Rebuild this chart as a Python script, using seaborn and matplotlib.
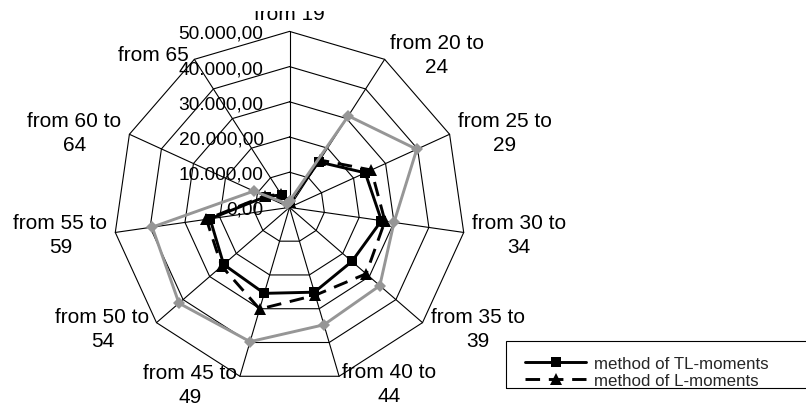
import numpy as np
import matplotlib
matplotlib.use("Agg")
import matplotlib.pyplot as plt
from matplotlib.lines import Line2D
from matplotlib.patches import Rectangle
import seaborn as sns

# Age groups (one spoke per group, clockwise from the top)
categories = ["from 19", "from 20 to\n24", "from 25 to\n29", "from 30 to\n34",
              "from 35 to\n39", "from 40 to\n44", "from 45 to\n49", "from 50 to\n54",
              "from 55 to\n59", "from 60 to\n64", "from 65"]

# Estimated values per age group
tl_moments = [1500, 15350, 23650, 26400, 23450, 25100, 25450, 24750, 22800, 7400, 4200]
l_moments = [1500, 16000, 25550, 27400, 28800, 26000, 30100, 25500, 23850, 7800, 4400]
observed = [1800, 30900, 39750, 30000, 33950, 34750, 39750, 41550, 39400, 11150, 1200]

ring_values = [0, 10000, 20000, 30000, 40000, 50000]
ring_labels = ["0,00", "10.000,00", "20.000,00", "30.000,00", "40.000,00", "50.000,00"]
series_names = ["method of TL-moments", "method of L-moments"]

sns.set_theme(style="white")
plt.rcParams["font.family"] = ["Liberation Sans", "DejaVu Sans"]

W, H = 806, 406
fig = plt.figure(figsize=(W / 100, H / 100), dpi=100)
fig.patch.set_facecolor("white")

cx, cy, R = 289.5, 208.4, 176.0
ax = fig.add_axes([(cx - R) / W, (H - cy - R) / H, 2 * R / W, 2 * R / H],
                  projection="polar")
ax.set_theta_offset(np.pi / 2)
ax.set_theta_direction(-1)
ax.set_facecolor("none")
ax.grid(False)
ax.spines["polar"].set_visible(False)
ax.set_xticks([])
ax.set_yticks([])

n = len(categories)
theta = 2 * np.pi * np.arange(n) / n
theta_closed = np.append(theta, 2 * np.pi)
rmax = ring_values[-1]


def closed(vals):
    return np.append(np.asarray(vals, dtype=float), vals[0])


# Polygon web: rings and spokes
for r in ring_values[1:]:
    ax.plot(theta_closed, [r] * (n + 1), color="black", lw=0.8, zorder=1, clip_on=False)
for t in theta:
    ax.plot([t, t], [0, rmax], color="black", lw=0.8, zorder=1, clip_on=False)

lw = 2.1
sns.lineplot(x=theta_closed, y=closed(tl_moments), sort=False, estimator=None,
             color="black", lw=lw, marker="s", markersize=7.5,
             markeredgecolor="black", markeredgewidth=0, ax=ax, zorder=3)
sns.lineplot(x=theta_closed, y=closed(l_moments), sort=False, estimator=None,
             color="black", lw=lw, linestyle=(0, (5, 3)), marker="^", markersize=8,
             markeredgecolor="black", markeredgewidth=0, ax=ax, zorder=3)
sns.lineplot(x=theta_closed, y=closed(observed), sort=False, estimator=None,
             color="#969696", lw=lw, marker="D", markersize=6.5,
             markeredgecolor="#969696", markeredgewidth=0, ax=ax, zorder=4)
ax.set_ylim(0, rmax)
ax.set_xlabel("")
ax.set_ylabel("")

# Value labels along the top spoke
for r, lab in zip(ring_values, ring_labels):
    ax.annotate(lab, xy=(0, r), xytext=(-26, -2), textcoords="offset pixels",
                ha="right", va="center", fontsize=13.8, color="black",
                annotation_clip=False, zorder=5)

# Category labels just outside each outer vertex; the top one is cut by the chart area
label_offsets = [(0, 12.4), (52, 5), (55, 2), (55, -2), (55, -6), (50, -7),
                 (-50, -8), (-54, -6), (-55, -2), (-55, 2), (-41, 5)]
chart_area = Rectangle((0, 0), 1, (H - 12) / H, transform=fig.transFigure,
                       facecolor="none", edgecolor="none")
for i, (t, lab, (dx, dy)) in enumerate(zip(theta, categories, label_offsets)):
    txt = ax.annotate(lab, xy=(t, rmax), xytext=(dx, dy), textcoords="offset pixels",
                      ha="center", va="baseline" if i == 0 else "center",
                      multialignment="center", fontsize=15, linespacing=1.3,
                      color="black", annotation_clip=False)
    if i == 0:
        txt.set_clip_on(True)
        txt.set_clip_path(chart_area)

# Legend
handles = [
    Line2D([], [], color="black", lw=lw, marker="s", markersize=7.5, markeredgewidth=0),
    Line2D([], [], color="black", lw=lw, linestyle=(0, (5, 3)), marker="^",
           markersize=8, markeredgewidth=0),
]
leg = fig.legend(handles, series_names, loc="upper left",
                 bbox_to_anchor=(525 / W, (H - 357) / H), frameon=False,
                 fontsize=12.2, handlelength=3.6, handletextpad=0.5,
                 labelspacing=0.1, borderpad=0, borderaxespad=0)
fig.patches.append(Rectangle((506 / W, (H - 389) / H), 330 / W, 47 / H,
                             transform=fig.transFigure, fill=False,
                             edgecolor="black", lw=0.8, clip_on=False))

fig.savefig("out.png", dpi=100, facecolor="white")
